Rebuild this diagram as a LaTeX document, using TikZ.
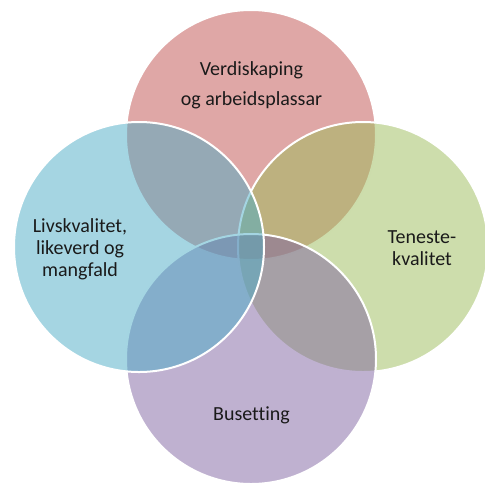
\documentclass[tikz,border=0pt]{standalone}
\usepackage{fontspec}
\setmainfont{Carlito}[Ligatures=NoCommon]
\definecolor{cred}{HTML}{C0504D}
\definecolor{cgreen}{HTML}{9BBB59}
\definecolor{cpurple}{HTML}{8064A2}
\definecolor{caqua}{HTML}{4BACC6}
\definecolor{ctext}{HTML}{1A1A1A}
\begin{document}
\begin{tikzpicture}[x=0.75pt,y=-0.75pt,
  venn/.style={fill opacity=0.5, draw=white, line width=1.5pt},
  lbl/.style={text=ctext, font=\fontsize{15pt}{16.5pt}\selectfont, align=center, inner sep=0pt}]
\useasboundingbox (0,0) rectangle (485,483);
\begin{scope}
\clip (0,0) rectangle (485,483);
\coordinate (ctop) at (251,135);
\coordinate (cright) at (363,247);
\coordinate (cbottom) at (251,359);
\coordinate (cleft) at (139,247);
\path[venn, fill=cred] (ctop) circle[radius=125];
\path[venn, fill=cgreen] (cright) circle[radius=125];
\path[venn, fill=cpurple] (cbottom) circle[radius=125];
\path[venn, fill=caqua] (cleft) circle[radius=125];
\end{scope}
\node[lbl, anchor=base] (tverd) at (251.5,75) {Verdiskaping};
\node[lbl, anchor=base] (tarb) at (251.5,105) {og arbeidsplassar};
\node[lbl, anchor=base] (tliv) at (80,276) {Livskvalitet,\\likeverd og\\mangfald};
\node[lbl, anchor=base] (tten) at (422,265) {Teneste-\\kvalitet};
\node[lbl, anchor=base] (tbus) at (251.5,420) {Busetting};
\end{tikzpicture}
\end{document}
